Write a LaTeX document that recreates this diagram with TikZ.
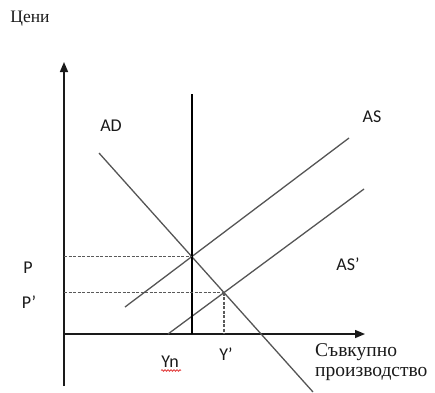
\documentclass[tikz,border=0pt]{standalone}
\usepackage{fontspec}
\setmainfont{Liberation Serif}
\setsansfont{Carlito}
\usetikzlibrary{positioning, arrows.meta, intersections, decorations.pathmorphing}
\definecolor{ink}{HTML}{1A1A1A}
\definecolor{curve}{HTML}{555555}
\definecolor{guide}{HTML}{5A5A5A}
\definecolor{spell}{HTML}{E23B3B}
\tikzset{
  axis/.style      = {-{Triangle[length=10pt,width=8pt]}, line width=1.5pt, draw=ink},
  curveline/.style = {line width=1.3pt, draw=curve},
  natural/.style   = {line width=2.5pt, draw=black},
  guideline/.style = {dash pattern=on 3pt off 1.5pt, line width=1.3pt, draw=guide},
  lbl/.style       = {font=\sffamily\fontsize{18}{20}\selectfont, text=ink, inner sep=0pt},
  ttl/.style       = {font=\fontsize{19.5}{20}\selectfont, text=ink, inner sep=0pt, align=left},
}

\begin{document}
\begin{tikzpicture}[x=1pt, y=-1pt]
  \useasboundingbox (0,0) rectangle (435,392);

  % axes
  \coordinate (O) at (64,334);
  \coordinate (ybot) at (64,386);
  \coordinate (ytop) at (64,62);
  \coordinate (xend) at (365,334);
  \draw[axis] (ybot) -- (ytop);
  \draw[axis] (O) -- (xend);
  \node[ttl, font=\fontsize{17.5}{20}\selectfont] (prices) at (30,19) {Цени};

  % demand and supply
  \coordinate (ad1) at (99,153);
  \coordinate (ad2) at (313,392);
  \coordinate (as1) at (125,307);
  \coordinate (as2) at (349,138);
  \coordinate (asb1) at (168,334);
  \coordinate (asb2) at (364,189);
  \draw[curveline, name path=AD] (ad1) -- (ad2);
  \draw[curveline, name path=AS] (as1) -- (as2);
  \draw[curveline, name path=ASb] (asb1) -- (asb2);
  \path[name intersections={of=AD and AS, by=E}];
  \path[name intersections={of=AD and ASb, by=Eb}];

  % long-run output
  \coordinate (yntop) at (E |- 0,94);
  \draw[natural] (E |- O) -- (yntop);

  % guides
  \draw[guideline] (O |- E) -- (E);
  \draw[guideline] (O |- Eb) -- (Eb);
  \draw[guideline] (Eb) -- (Eb |- O);

  % labels
  \node[lbl] (adlbl) at (111,126) {AD};
  \node[lbl] (aslbl) at (372,117) {AS};
  \node[lbl] (asblbl) at (348,264) {AS’};
  \node[lbl] (plbl) at (28,268) {P};
  \node[lbl] (pblbl) at (29,302) {P’};
  \node[lbl] (ynlbl) at (170,362) {Yn};
  \node[lbl] (yblbl) at (226,354) {Y’};
  \draw[spell, line width=0.8pt, decorate,
        decoration={snake, amplitude=0.8pt, segment length=3pt}]
        (ynlbl.south west) ++(0,2.5) -- ++(20,0);
  \node[ttl, anchor=north west] (output) at (315,343) {Съвкупно\\производство};
\end{tikzpicture}
\end{document}
